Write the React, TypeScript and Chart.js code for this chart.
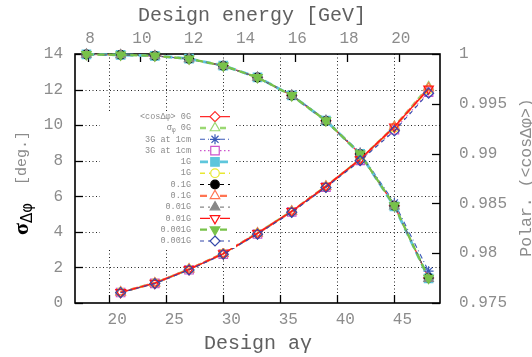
import React, { useEffect, useRef } from 'react';
import { Chart, registerables } from 'chart.js';

Chart.register(...registerables);

// Design spin tune aγ of each simulated lattice
const aGamma = [18, 21, 24, 27, 30, 33, 36, 39, 42, 45, 48];
// Beam energy per unit of aγ for electrons [GeV]
const GEV_PER_AGAMMA = 0.440649;

const aGammaTicks = [20, 25, 30, 35, 40, 45];
const energyTicks = [8, 10, 12, 14, 16, 18, 20];
const sigmaTicks = [0, 2, 4, 6, 8, 10, 12, 14];
const polarTicks = [0.975, 0.98, 0.985, 0.99, 0.995, 1];
const polarTickLabels = ['0.975', '0.98', '0.985', '0.99', '0.995', '1'];

// Polarization <cosΔφ> for each field error setting
const polar0G = [0.99996, 0.99991, 0.99982, 0.99952, 0.99882, 0.99765, 0.99584, 0.9933, 0.98996, 0.98477, 0.97751];
const polar3G = [0.99996, 0.9999, 0.99981, 0.9995, 0.9988, 0.99768, 0.9959, 0.9934, 0.9901, 0.98505, 0.9782];
const polar1G = [0.99996, 0.99991, 0.99982, 0.99953, 0.99883, 0.99766, 0.99585, 0.99331, 0.98998, 0.9847, 0.97748];
const polar01G = [0.99996, 0.99991, 0.99982, 0.99952, 0.99881, 0.99764, 0.99582, 0.99328, 0.98995, 0.98475, 0.97752];
const polar001G = [0.99996, 0.99991, 0.99981, 0.99951, 0.99881, 0.99764, 0.99583, 0.99329, 0.98994, 0.98472, 0.97745];
const polar0001G = [0.99996, 0.99991, 0.99982, 0.99952, 0.99882, 0.99765, 0.99584, 0.99331, 0.98997, 0.98478, 0.9775];

// Spin angle spread σΔφ [deg.] for each field error setting
const sigma0G = [null, 0.61, 1.12, 1.9, 2.78, 3.93, 5.16, 6.56, 8.08, 9.92, 12.15];
const sigma3G = [null, 0.59, 1.1, 1.87, 2.75, 3.88, 5.12, 6.52, 8.02, 9.74, 11.86];
const sigma1G = [null, 0.6, 1.11, 1.89, 2.77, 3.91, 5.14, 6.54, 8.06, 9.85, 12.0];
const sigma01G = [null, 0.61, 1.12, 1.9, 2.78, 3.92, 5.15, 6.55, 8.07, 9.9, 12.08];
const sigma001G = [null, 0.6, 1.12, 1.89, 2.78, 3.92, 5.16, 6.56, 8.08, 9.91, 12.04];
const sigma0001G = [null, 0.58, 1.09, 1.86, 2.74, 3.87, 5.1, 6.5, 8.0, 9.68, 11.8];

type Series = {
  label: string;
  values: (number | null)[];
  axis: 'y' | 'y1';
  color: string;
  point: string;
  rot?: number;
  filled?: boolean;
  dash: number[];
  width: number;
  radius: number;
};

const series: Series[] = [
  { label: '<cosΔφ> 0G', values: polar0G, axis: 'y1', color: '#ff2a2a', point: 'rectRot', dash: [], width: 1.3, radius: 5 },
  { label: 'σφ 0G', values: sigma0G, axis: 'y', color: '#9ad872', point: 'triangle', dash: [6, 4], width: 2.4, radius: 5.5 },
  { label: '3G at 1cm', values: polar3G, axis: 'y1', color: '#3a5ab8', point: 'star', dash: [5, 3, 1, 3], width: 1.1, radius: 5 },
  { label: '3G at 1cm', values: sigma3G, axis: 'y', color: '#cc55cc', point: 'rect', dash: [1.5, 2.5], width: 1.1, radius: 6 },
  { label: '1G', values: polar1G, axis: 'y1', color: '#5ec6dc', point: 'rect', filled: true, dash: [8, 5], width: 2.8, radius: 6 },
  { label: '1G', values: sigma1G, axis: 'y', color: '#e8e830', point: 'circle', dash: [5, 4], width: 1.4, radius: 4.3 },
  { label: '0.1G', values: polar01G, axis: 'y1', color: '#000000', point: 'circle', filled: true, dash: [4, 4], width: 1.1, radius: 4.3 },
  { label: '0.1G', values: sigma01G, axis: 'y', color: '#ff7452', point: 'triangle', dash: [7, 4], width: 2.3, radius: 5.5 },
  { label: '0.01G', values: polar001G, axis: 'y1', color: '#888888', point: 'triangle', filled: true, dash: [4, 4], width: 1.1, radius: 5.5 },
  { label: '0.01G', values: sigma001G, axis: 'y', color: '#ff1414', point: 'triangle', rot: 180, dash: [], width: 1.4, radius: 5.5 },
  { label: '0.001G', values: polar0001G, axis: 'y1', color: '#78c24a', point: 'triangle', rot: 180, filled: true, dash: [7, 4], width: 2.3, radius: 5.5 },
  { label: '0.001G', values: sigma0001G, axis: 'y', color: '#3448aa', point: 'rectRot', dash: [4, 4], width: 1.1, radius: 5 },
];

const MONO = '"Liberation Mono", "DejaVu Sans Mono", monospace';
const TICK_COLOR = '#8c8c8c';
const TITLE_COLOR = '#606060';

function drawMarker(
  ctx: CanvasRenderingContext2D,
  style: string,
  x: number,
  y: number,
  r: number,
  rotDeg: number,
  fill: string | null,
  stroke: string,
  lw: number
) {
  ctx.save();
  ctx.setLineDash([]);
  ctx.lineWidth = lw;
  ctx.strokeStyle = stroke;
  ctx.beginPath();
  if (style === 'circle') {
    ctx.arc(x, y, r, 0, Math.PI * 2);
    ctx.closePath();
  } else if (style === 'rect') {
    const s = r * Math.SQRT1_2;
    ctx.rect(x - s, y - s, 2 * s, 2 * s);
  } else if (style === 'rectRot') {
    ctx.moveTo(x, y - r);
    ctx.lineTo(x + r, y);
    ctx.lineTo(x, y + r);
    ctx.lineTo(x - r, y);
    ctx.closePath();
  } else if (style === 'triangle') {
    let a = (rotDeg * Math.PI) / 180;
    ctx.moveTo(x + Math.sin(a) * r, y - Math.cos(a) * r);
    a += (2 * Math.PI) / 3;
    ctx.lineTo(x + Math.sin(a) * r, y - Math.cos(a) * r);
    a += (2 * Math.PI) / 3;
    ctx.lineTo(x + Math.sin(a) * r, y - Math.cos(a) * r);
    ctx.closePath();
  } else if (style === 'star') {
    for (let k = 0; k < 4; k++) {
      const a = (k * Math.PI) / 4;
      ctx.moveTo(x - Math.cos(a) * r, y - Math.sin(a) * r);
      ctx.lineTo(x + Math.cos(a) * r, y + Math.sin(a) * r);
    }
  }
  if (fill && style !== 'star') {
    ctx.fillStyle = fill;
    ctx.fill();
  }
  ctx.stroke();
  ctx.restore();
}

const decorPlugin = {
  id: 'decor',
  beforeDatasetsDraw(chart: any) {
    const { ctx, chartArea: a, scales } = chart;
    ctx.save();
    // dotted grid
    ctx.strokeStyle = '#222';
    ctx.lineWidth = 1;
    ctx.setLineDash([1, 2.5]);
    for (const v of aGammaTicks) {
      const x = Math.round(scales.x.getPixelForValue(v)) + 0.5;
      ctx.beginPath();
      ctx.moveTo(x, a.top);
      ctx.lineTo(x, a.bottom);
      ctx.stroke();
    }
    for (const v of sigmaTicks) {
      if (v === 0 || v === 14) continue;
      const y = Math.round(scales.y.getPixelForValue(v)) + 0.5;
      ctx.beginPath();
      ctx.moveTo(a.left, y);
      ctx.lineTo(a.right, y);
      ctx.stroke();
    }
    // inward tick marks
    ctx.setLineDash([]);
    ctx.strokeStyle = '#000';
    ctx.lineWidth = 1.3;
    const tl = 8;
    for (const v of aGammaTicks) {
      const x = Math.round(scales.x.getPixelForValue(v)) + 0.5;
      ctx.beginPath();
      ctx.moveTo(x, a.bottom);
      ctx.lineTo(x, a.bottom - tl);
      ctx.stroke();
    }
    for (const v of energyTicks) {
      const x = Math.round(scales.x2.getPixelForValue(v)) + 0.5;
      ctx.beginPath();
      ctx.moveTo(x, a.top);
      ctx.lineTo(x, a.top + tl);
      ctx.stroke();
    }
    for (const v of sigmaTicks) {
      const y = Math.round(scales.y.getPixelForValue(v)) + 0.5;
      ctx.beginPath();
      ctx.moveTo(a.left, y);
      ctx.lineTo(a.left + tl, y);
      ctx.stroke();
    }
    for (const v of polarTicks) {
      const y = Math.round(scales.y1.getPixelForValue(v)) + 0.5;
      ctx.beginPath();
      ctx.moveTo(a.right, y);
      ctx.lineTo(a.right - tl, y);
      ctx.stroke();
    }
    // frame
    ctx.lineWidth = 1.6;
    ctx.strokeRect(a.left, a.top, a.right - a.left, a.bottom - a.top);
    ctx.restore();
  },
  afterDatasetsDraw(chart: any) {
    const { ctx } = chart;
    ctx.save();
    // key box
    ctx.fillStyle = '#ffffff';
    ctx.fillRect(100, 111, 136, 137);
    const textRight = 191;
    const lineL = 200;
    const lineR = 230;
    const mx = 215;
    series.forEach((s, i) => {
      const y = 116.7 + i * 11.3;
      ctx.fillStyle = TICK_COLOR;
      ctx.textBaseline = 'middle';
      ctx.textAlign = 'right';
      if (s.label.startsWith('σφ')) {
        ctx.font = `8.5px ${MONO}`;
        const rest = ' 0G';
        const wRest = ctx.measureText(rest).width;
        ctx.fillText(rest, textRight, y);
        ctx.font = `6.5px ${MONO}`;
        const wPhi = ctx.measureText('φ').width;
        ctx.fillText('φ', textRight - wRest, y + 2.5);
        ctx.font = `8.5px ${MONO}`;
        ctx.fillText('σ', textRight - wRest - wPhi, y);
      } else {
        ctx.font = `8.5px ${MONO}`;
        ctx.fillText(s.label, textRight, y);
      }
      // sample line split around the marker
      ctx.strokeStyle = s.color;
      ctx.lineWidth = s.width;
      ctx.setLineDash(s.dash);
      ctx.beginPath();
      ctx.moveTo(lineL, y);
      ctx.lineTo(mx - 5, y);
      ctx.moveTo(mx + 5, y);
      ctx.lineTo(lineR, y);
      ctx.stroke();
      drawMarker(ctx, s.point, mx, y, s.radius, s.rot || 0, s.filled ? s.color : '#ffffff', s.color, 1.2);
    });
    ctx.restore();
  },
  afterDraw(chart: any) {
    const { ctx } = chart;
    ctx.save();
    ctx.fillStyle = TITLE_COLOR;
    ctx.textBaseline = 'middle';
    ctx.textAlign = 'center';
    ctx.font = `20px ${MONO}`;
    ctx.fillText('Design energy [GeV]', 252, 16);
    ctx.fillText('Design aγ', 258, 344);

    // left axis title: σ_{Δφ} [deg.]
    ctx.save();
    ctx.translate(21, 183);
    ctx.rotate(-Math.PI / 2);
    ctx.textAlign = 'left';
    ctx.textBaseline = 'alphabetic';
    const fSig = 'bold 22px "Liberation Serif", serif';
    const fSub = '15px "DejaVu Sans", sans-serif';
    const fUnit = `15px ${MONO}`;
    ctx.font = fSig;
    const wSig = ctx.measureText('σ').width;
    ctx.font = fSub;
    const wSub = ctx.measureText('Δφ').width;
    ctx.font = fUnit;
    const unit = '  [deg.]';
    const wUnit = ctx.measureText(unit).width;
    let x0 = -(wSig + wSub + wUnit) / 2;
    ctx.fillStyle = '#000';
    ctx.font = fSig;
    ctx.fillText('σ', x0, 7);
    x0 += wSig;
    ctx.font = fSub;
    ctx.fillText('Δφ', x0, 11);
    x0 += wSub;
    ctx.fillStyle = TICK_COLOR;
    ctx.font = fUnit;
    ctx.fillText(unit, x0, 5);
    ctx.restore();

    // right axis title
    ctx.save();
    ctx.translate(526, 177.5);
    ctx.rotate(-Math.PI / 2);
    ctx.textAlign = 'center';
    ctx.textBaseline = 'alphabetic';
    ctx.fillStyle = TICK_COLOR;
    ctx.font = `16.5px ${MONO}`;
    ctx.fillText('Polar. (<cosΔφ>)', 0, 5);
    ctx.restore();

    ctx.restore();
  },
};

const tickFont = { family: MONO, size: 16 };

export default function App() {
  const ref = useRef<HTMLCanvasElement>(null);

  useEffect(() => {
    document.body.style.margin = '0';
    const datasets = series.map((s, i) => ({
      label: s.label,
      data: aGamma
        .map((x, k) => ({ x, y: s.values[k] }))
        .filter((p) => p.y !== null),
      yAxisID: s.axis,
      xAxisID: 'x',
      borderColor: s.color,
      borderWidth: s.width,
      borderDash: s.dash,
      backgroundColor: s.filled ? s.color : 'rgba(0,0,0,0)',
      pointStyle: s.point,
      pointRotation: s.rot || 0,
      pointRadius: s.radius,
      pointBorderWidth: 1.2,
      pointBorderColor: s.color,
      pointBackgroundColor: s.filled ? s.color : 'rgba(0,0,0,0)',
      tension: 0,
      fill: false,
      clip: false as any,
      order: -i,
    }));

    const chart = new Chart(ref.current as HTMLCanvasElement, {
      type: 'line',
      data: { datasets },
      plugins: [decorPlugin],
      options: {
        animation: false,
        responsive: true,
        maintainAspectRatio: false,
        devicePixelRatio: 1,
        layout: { padding: 0 },
        plugins: {
          legend: { display: false },
          tooltip: { enabled: false },
        },
        scales: {
          x: {
            type: 'linear',
            position: 'bottom',
            min: 17,
            max: 49,
            afterFit: (s: any) => {
              s.height = 54;
            },
            afterBuildTicks: (s: any) => {
              s.ticks = aGammaTicks.map((v) => ({ value: v }));
            },
            grid: { display: false, drawTicks: false },
            border: { display: false },
            ticks: {
              font: tickFont,
              color: TICK_COLOR,
              padding: 7.5,
              labelOffset: 8,
              maxRotation: 0,
              autoSkip: false,
              callback: (v: any) => String(v),
            },
          },
          x2: {
            type: 'linear',
            position: 'top',
            min: 17 * GEV_PER_AGAMMA,
            max: 49 * GEV_PER_AGAMMA,
            afterFit: (s: any) => {
              s.height = 54;
            },
            afterBuildTicks: (s: any) => {
              s.ticks = energyTicks.map((v) => ({ value: v }));
            },
            grid: { display: false, drawTicks: false },
            border: { display: false },
            ticks: {
              font: tickFont,
              color: TICK_COLOR,
              padding: 5.5,
              labelOffset: 2,
              maxRotation: 0,
              autoSkip: false,
              callback: (v: any) => String(v),
            },
          },
          y: {
            type: 'linear',
            position: 'left',
            min: 0,
            max: 14,
            afterFit: (s: any) => {
              s.width = 75;
            },
            afterBuildTicks: (s: any) => {
              s.ticks = sigmaTicks.map((v) => ({ value: v }));
            },
            grid: { display: false, drawTicks: false },
            border: { display: false },
            ticks: {
              font: tickFont,
              color: TICK_COLOR,
              padding: 12,
              autoSkip: false,
              callback: (v: any) => String(v),
            },
          },
          y1: {
            type: 'linear',
            position: 'right',
            min: 0.975,
            max: 1,
            afterFit: (s: any) => {
              s.width = 92;
            },
            afterBuildTicks: (s: any) => {
              s.ticks = polarTicks.map((v) => ({ value: v }));
            },
            grid: { display: false, drawTicks: false },
            border: { display: false },
            ticks: {
              font: tickFont,
              color: TICK_COLOR,
              padding: 19,
              autoSkip: false,
              callback: (v: any) => {
                const k = polarTicks.findIndex((t) => Math.abs(t - v) < 1e-9);
                return k >= 0 ? polarTickLabels[k] : '';
              },
            },
          },
        },
      } as any,
    });
    return () => chart.destroy();
  }, []);

  return (
    <div style={{ position: 'relative', width: 532, height: 357 }}>
      <canvas ref={ref} />
    </div>
  );
}
